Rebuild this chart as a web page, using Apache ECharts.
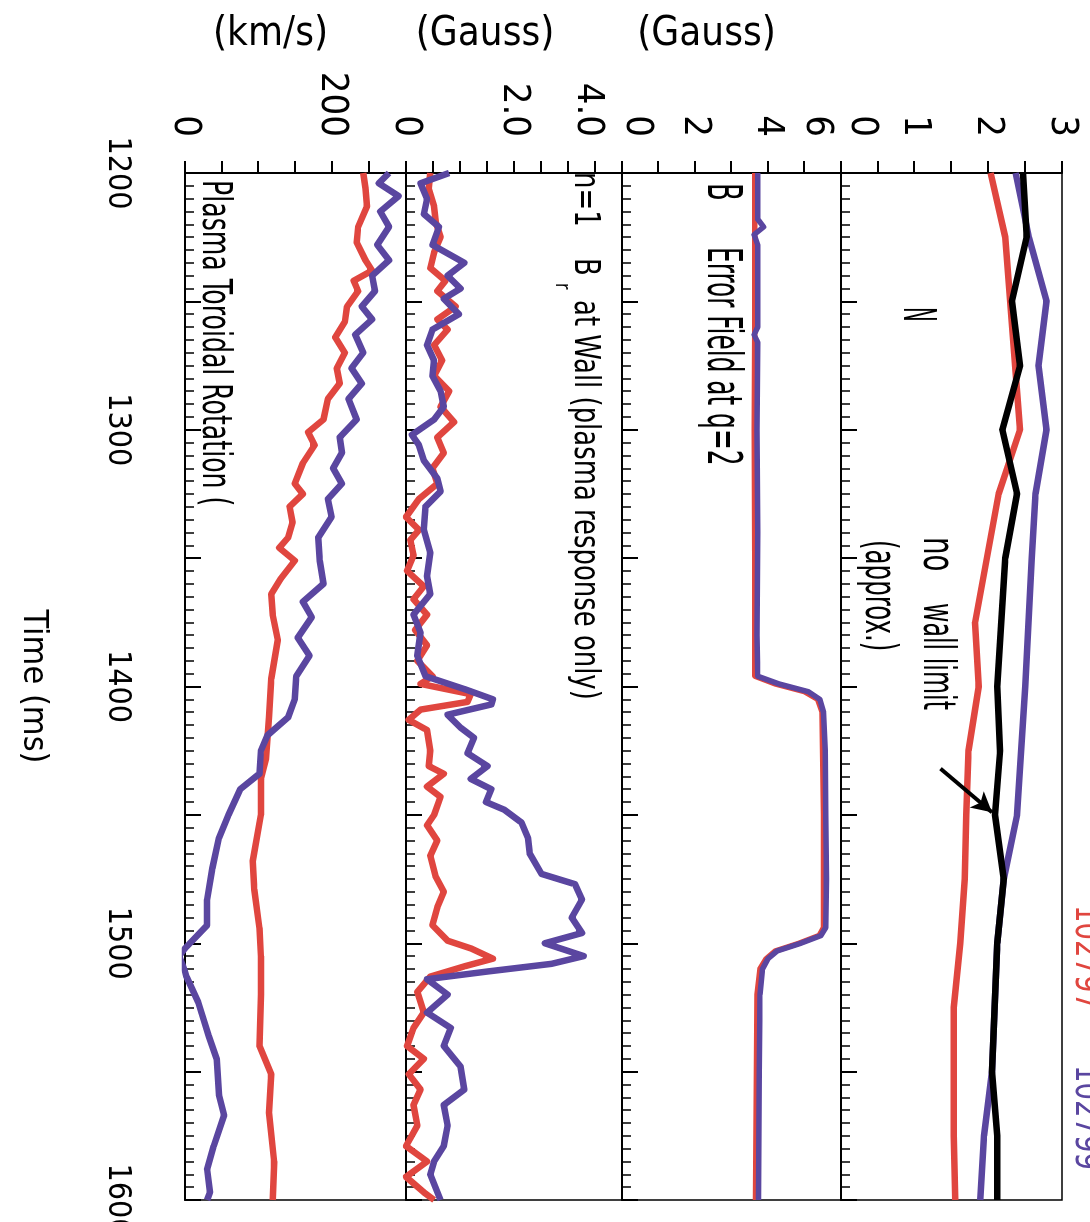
<!DOCTYPE html>
<html>
<head>
<meta charset="utf-8">
<script src="https://cdn.jsdelivr.net/npm/echarts/dist/echarts.min.js"></script>
<style>
  html, body { margin: 0; padding: 0; background: #fff; overflow: hidden; width: 1090px; height: 1222px; }
  /* the figure is drawn upright and then turned a quarter turn clockwise */
  #chart { position: absolute; left: 0; top: 0; width: 1222px; height: 1090px;
           transform-origin: 0 0; transform: translate(1090px, 0) rotate(90deg); }
</style>
</head>
<body>
<div id="chart"></div>
<script>
// ---- data: [time (ms), value] ----
const nRed = [[1200,2.03],[1225,2.23],[1300,2.43],[1325,2.14],[1375,1.82],[1400,1.87],[1425,1.73],[1450,1.70],[1475,1.68],[1500,1.62],[1525,1.53],[1550,1.53],[1575,1.53],[1600,1.55]]
const nBlue = [[1200,2.37],[1225,2.55],[1250,2.79],[1275,2.68],[1300,2.79],[1325,2.64],[1350,2.59],[1400,2.50],[1450,2.39],[1475,2.21],[1500,2.12],[1550,2.05],[1575,1.94],[1600,1.89]]
const nBlack = [[1200,2.47],[1225,2.52],[1250,2.32],[1275,2.43],[1300,2.19],[1325,2.39],[1350,2.23],[1400,2.12],[1425,2.16],[1450,2.09],[1475,2.21],[1500,2.12],[1550,2.05],[1575,2.12],[1600,2.12]]

const errRed = [[1200,3.64],[1260,3.64],[1300,3.62],[1350,3.64],[1396,3.64],[1399,4.2],[1402,5.0],[1405,5.36],[1410,5.48],[1450,5.52],[1494,5.52],[1497,5.40],[1500,4.85],[1503,4.2],[1506,3.95],[1510,3.78],[1520,3.70],[1600,3.66]]
const errBlue = [[1200,3.72],[1218,3.72],[1221,3.88],[1224,3.62],[1228,3.72],[1260,3.72],[1263,3.62],[1266,3.72],[1300,3.70],[1340,3.72],[1380,3.70],[1396,3.72],[1399,4.3],[1402,5.1],[1405,5.42],[1410,5.52],[1425,5.57],[1450,5.58],[1475,5.60],[1494,5.58],[1497,5.45],[1500,4.9],[1503,4.25],[1506,4.0],[1510,3.85],[1520,3.78],[1550,3.76],[1600,3.74]]

const brRed = [[1200,0.45],[1206,0.42],[1213,0.52],[1219,0.55],[1225,0.64],[1231,0.52],[1237,0.45],[1242,0.73],[1246,0.58],[1252,0.92],[1257,0.58],[1261,0.77],[1267,0.52],[1273,0.67],[1279,0.52],[1285,0.80],[1291,0.64],[1297,0.89],[1303,0.58],[1309,0.70],[1315,0.49],[1321,0.58],[1327,0.24],[1334,0.0],[1339,0.24],[1343,0.08],[1349,0.14],[1355,0.02],[1361,0.33],[1366,0.14],[1372,0.39],[1378,0.17],[1384,0.39],[1390,0.21],[1396,0.49],[1399,0.27],[1403,1.20],[1406,1.14],[1409,0.27],[1413,0.05],[1417,0.39],[1425,0.45],[1431,0.42],[1434,0.70],[1439,0.39],[1443,0.64],[1450,0.52],[1454,0.39],[1460,0.58],[1466,0.45],[1474,0.55],[1480,0.70],[1486,0.58],[1493,0.49],[1499,0.77],[1502,1.20],[1506,1.61],[1509,1.08],[1513,0.45],[1519,0.21],[1527,0.33],[1533,0.14],[1540,0.02],[1545,0.33],[1551,0.05],[1557,0.27],[1563,0.14],[1571,0.21],[1579,0.0],[1585,0.39],[1591,0.0],[1597,0.33],[1600,0.52]]
const brBlue = [[1200,0.80],[1204,0.27],[1210,0.39],[1216,0.33],[1221,0.61],[1228,0.49],[1235,1.08],[1240,0.77],[1245,1.01],[1249,0.70],[1255,0.98],[1261,0.49],[1267,0.39],[1273,0.52],[1279,0.49],[1285,0.64],[1291,0.70],[1296,0.52],[1302,0.11],[1306,0.24],[1312,0.33],[1319,0.58],[1324,0.64],[1330,0.36],[1339,0.33],[1348,0.45],[1357,0.39],[1364,0.45],[1372,0.14],[1379,0.27],[1388,0.21],[1396,0.36],[1401,1.08],[1405,1.61],[1407,1.58],[1411,0.77],[1416,1.01],[1420,1.26],[1426,1.14],[1431,1.51],[1436,1.20],[1440,1.58],[1445,1.48],[1448,1.82],[1453,2.14],[1459,2.26],[1465,2.29],[1473,2.51],[1477,3.13],[1483,3.26],[1490,3.07],[1496,3.26],[1500,2.57],[1505,3.29],[1508,2.70],[1511,1.51],[1514,0.39],[1520,0.77],[1527,0.39],[1533,0.83],[1540,0.70],[1548,1.01],[1557,1.08],[1563,0.70],[1571,0.77],[1579,0.70],[1585,0.52],[1590,0.45],[1600,0.64]]

const rotRed = [[1200,242],[1206,245],[1213,247],[1221,235],[1227,233],[1234,245],[1238,254],[1242,229],[1246,235],[1252,220],[1258,217],[1264,204],[1270,217],[1276,206],[1282,210],[1288,194],[1296,188],[1301,167],[1306,176],[1313,160],[1321,149],[1325,160],[1330,142],[1336,146],[1342,140],[1346,128],[1351,149],[1358,130],[1364,117],[1372,119],[1382,126],[1397,117],[1412,114],[1428,110],[1436,103],[1450,103],[1468,92],[1479,94],[1494,101],[1505,103],[1520,103],[1540,101],[1551,117],[1566,114],[1585,121],[1600,119]]
const rotBlue = [[1200,277],[1204,263],[1209,290],[1215,265],[1221,277],[1228,261],[1234,277],[1240,254],[1246,258],[1252,240],[1257,254],[1263,231],[1270,242],[1276,226],[1282,240],[1288,222],[1296,233],[1303,210],[1309,213],[1315,201],[1321,213],[1327,194],[1334,199],[1342,181],[1351,183],[1360,188],[1367,160],[1373,172],[1381,153],[1388,169],[1396,151],[1405,149],[1412,140],[1419,112],[1425,103],[1434,101],[1440,75],[1450,59],[1459,46],[1471,37],[1483,30],[1493,30],[1502,0],[1505,-8],[1511,0],[1513,2],[1523,18],[1536,32],[1545,43],[1559,46],[1567,53],[1579,39],[1588,30],[1597,34],[1600,30]]

const RED = '#E0463F'
const BLUE = '#5A46A0'
const FONT = "'Liberation Sans Narrow', 'DejaVu Sans Condensed', sans-serif"

const chart = echarts.init(document.getElementById('chart'))

// 4 stacked panels, top to bottom: N, error field, Br, rotation
const grids = [
  { left: 173, right: 22, top: 28, height: 221 },
  { left: 173, right: 22, top: 249, height: 219 },
  { left: 173, right: 22, top: 468, height: 216 },
  { left: 173, right: 22, top: 684, height: 221 }
].map(g => ({ ...g, show: true, borderColor: '#000', borderWidth: 1.5, containLabel: false, outerBoundsMode: 'none' }))

const labelRich = {
  up15: { fontFamily: FONT, fontSize: 38, color: '#000', padding: [0, 0, 30, 0] },
  up21: { fontFamily: FONT, fontSize: 38, color: '#000', padding: [0, 0, 42, 0] },
  dn24: { fontFamily: FONT, fontSize: 38, color: '#000', padding: [48, 0, 0, 0] },
  dn34: { fontFamily: FONT, fontSize: 38, color: '#000', padding: [68, 0, 0, 0] }
}

const timeAxis = (i, last) => ({
  type: 'value', gridIndex: i, min: 1200, max: 1600, interval: 50,
  axisLine: { show: true, lineStyle: { color: '#000', width: 2 } },
  axisTick: { show: true, inside: true, length: 16, lineStyle: { color: '#000', width: 2 } },
  minorTick: { show: true, splitNumber: 10, length: 9, lineStyle: { color: '#000', width: 1.5 } },
  splitLine: { show: false },
  axisLabel: {
    show: last, margin: 52, color: '#000', fontFamily: FONT, fontSize: 32,
    formatter: v => (v % 100 === 0 ? String(v) : '')
  },
  name: last ? 'Time (ms)' : '',
  nameLocation: 'middle', nameGap: 135,
  nameTextStyle: { color: '#000', fontFamily: FONT, fontSize: 34 }
})

const valueAxis = (i, max, interval, fmt, name, shift) => ({
  type: 'value', gridIndex: i, min: 0, max: max, interval: interval,
  axisLine: { show: true, lineStyle: { color: '#000', width: 2 } },
  axisTick: { show: true, length: 12, lineStyle: { color: '#000', width: 2 } },
  splitLine: { show: false },
  axisLabel: { margin: 36, color: '#000', fontFamily: FONT, fontSize: 38, formatter: fmt, rich: labelRich },
  name: name, nameLocation: 'middle', nameRotate: 90, nameGap: 118,
  nameTextStyle: { color: '#000', fontFamily: FONT, fontSize: 40, padding: [0, shift, 0, 0] }
})

const line = (i, data, color, w) => ({
  type: 'line', xAxisIndex: i, yAxisIndex: i, data: data,
  showSymbol: false, symbol: 'none', silent: true,
  lineStyle: { color: color, width: w || 6.5, join: 'round' }
})

const text = (str, x, y, size, sx, color) => ({
  type: 'text', x: x, y: y, scaleX: sx, silent: true,
  style: {
    text: str, fill: color || '#000', font: size + 'px ' + FONT,
    align: 'left', verticalAlign: 'middle', textAlign: 'left', textVerticalAlign: 'middle'
  }
})

const blackN = line(0, nBlack, '#000')
blackN.markLine = {
  silent: true, symbol: ['none', 'arrow'], symbolSize: [16, 20],
  label: { show: false },
  lineStyle: { color: '#000', width: 4, type: 'solid' },
  data: [[{ coord: [1432, 1.35] }, { coord: [1449, 2.05] }]]
}

chart.setOption({
  animation: false,
  backgroundColor: '#fff',
  grid: grids,
  xAxis: [timeAxis(0, false), timeAxis(1, false), timeAxis(2, false), timeAxis(3, true)],
  yAxis: [
    valueAxis(0, 3, 0.5, v => (v === 0 ? '{up21|0}' : (Number.isInteger(v) ? String(v) : '')), '', 0),
    valueAxis(1, 6, 1, v => (v === 0 ? '{up15|0}' : v === 6 ? '{dn24|6}' : (v % 2 === 0 ? String(v) : '')), '(Gauss)', 50),
    valueAxis(2, 4, 0.5, v => (v === 0 ? '0' : v === 4 ? '{dn34|4.0}' : v === 2 ? '2.0' : ''), '(Gauss)', 58),
    valueAxis(3, 300, 50, v => (v === 0 || v === 200 ? String(v) : ''), '(km/s)', 50)
  ],
  series: [
    line(0, nRed, RED),
    line(0, nBlue, BLUE),
    blackN,
    line(1, errRed, RED, 5.5),
    line(1, errBlue, BLUE, 5.5),
    line(2, brRed, RED),
    line(2, brBlue, BLUE),
    line(3, rotRed, RED),
    line(3, rotBlue, BLUE)
  ],
  graphic: [
    text('N', 307, 175, 44, 0.5),
    text('no', 537, 155, 44, 0.7),
    text('wall limit', 603, 155, 44, 0.6),
    text('(approx.)', 540, 213, 44, 0.62),
    text('B', 183, 370, 48, 0.6),
    text('Error Field at q=2', 247, 370, 48, 0.575),
    text('n=1', 172, 506, 36, 0.8),
    text('B', 258, 506, 36, 0.8),
    text('r', 283, 528, 22, 0.8),
    text('at Wall (plasma response only)', 300, 506, 36, 0.8),
    text('Plasma Toroidal Rotation (', 180, 877, 40, 0.7),
    text('102797', 905, 5, 36, 0.85, RED),
    text('102799', 1065, 5, 36, 0.85, BLUE)
  ]
})
</script>
</body>
</html>
